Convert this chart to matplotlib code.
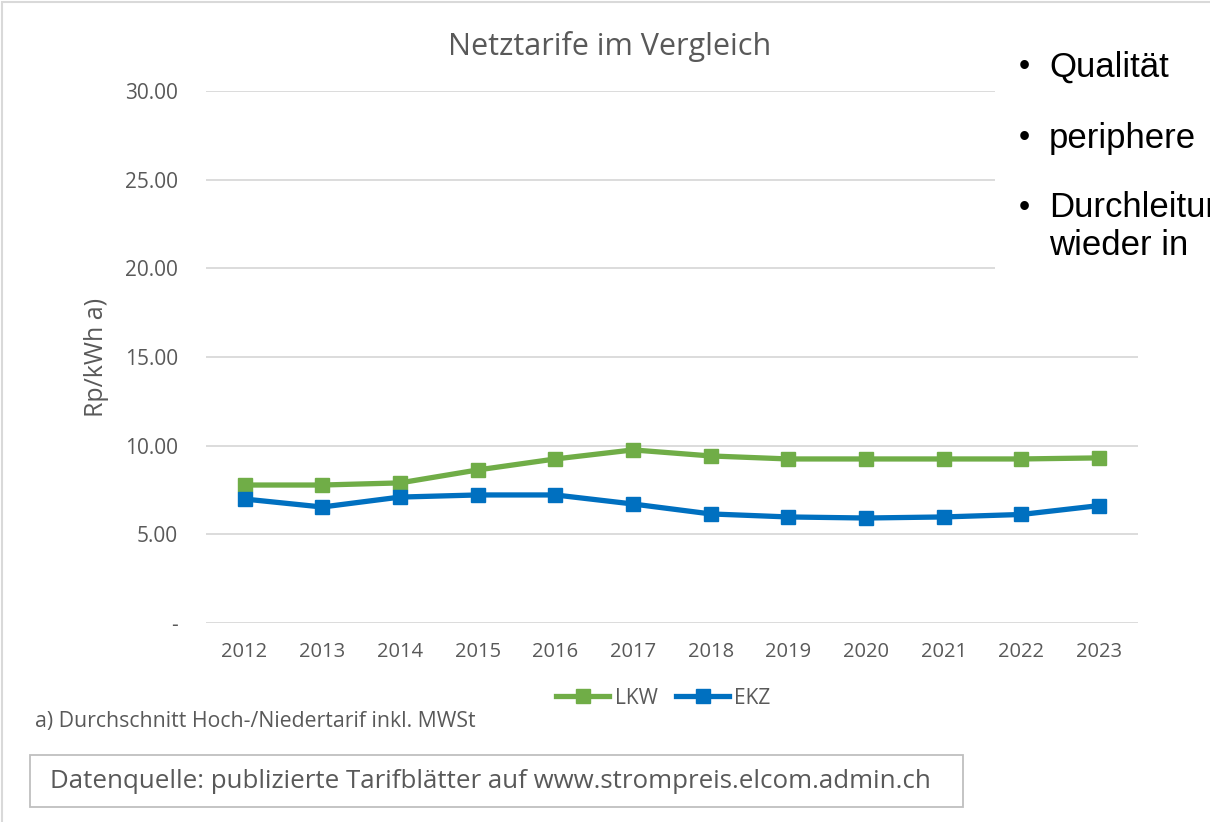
import matplotlib.pyplot as plt
from matplotlib.patches import Rectangle
from matplotlib.ticker import FuncFormatter

years = ["2012", "2013", "2014", "2015", "2016", "2017",
         "2018", "2019", "2020", "2021", "2022", "2023"]
lkw = [7.78, 7.78, 7.90, 8.63, 9.25, 9.76, 9.42, 9.25, 9.25, 9.25, 9.25, 9.31]
ekz = [6.99, 6.54, 7.10, 7.22, 7.22, 6.71, 6.15, 5.98, 5.92, 5.98, 6.12, 6.62]
y_ticks = [0, 5, 10, 15, 20, 25, 30]
bullets = ["Qualität", "periphere", "Durchleitung", "wieder in"]

grey = "#595959"
font = "Open Sans"

fig = plt.figure(figsize=(12.1, 8.22), dpi=100)
ax = fig.add_axes([0.170, 0.2421, 0.7705, 0.6472])

x = range(len(years))
ax.plot(x, lkw, color="#70AD47", lw=3.8, marker="s", ms=10, label="LKW")
ax.plot(x, ekz, color="#0070C0", lw=3.8, marker="s", ms=10, label="EKZ")

ax.set_xlim(-0.5, len(years) - 0.5)
ax.set_ylim(0, 30)
ax.set_xticks(list(x))
ax.set_xticklabels(years, fontsize=14.5, color=grey, family=font)
ax.set_yticks(y_ticks)
ax.yaxis.set_major_formatter(FuncFormatter(lambda v, p: "-" if v == 0 else f"{v:.2f}"))
for t in ax.get_yticklabels():
    t.set_fontsize(15)
    t.set_color(grey)
    t.set_family(font)
ax.tick_params(length=0, pad=20)
ax.tick_params(axis="x", pad=14)
ax.grid(axis="y", color="#D9D9D9", lw=1.3)
ax.set_axisbelow(True)
for s in ax.spines.values():
    s.set_visible(False)

ax.set_ylabel("Rp/kWh a)", fontsize=18, color=grey, family=font)
ax.yaxis.set_label_coords(-0.104, 0.5)
fig.text(610 / 1210, 1 - 47 / 822, "Netztarife im Vergleich", fontsize=22,
         color=grey, family=font, ha="center", va="center")

leg = ax.legend(loc="center", bbox_to_anchor=(0.491, -0.141), ncol=2, frameon=False,
                prop={"family": font, "size": 15}, handlelength=2.55,
                columnspacing=0.9, handletextpad=0.25)
for t in leg.get_texts():
    t.set_color(grey)

fig.text(0.029, 0.1217, "a) Durchschnitt Hoch-/Niedertarif inkl. MWSt",
         fontsize=15.3, color=grey, family=font, va="center")

# chart frame
fig.patches.append(Rectangle((0.002, -0.01), 1.2, 1.0075, transform=fig.transFigure,
                             fill=False, ec="#D9D9D9", lw=1.5))
# source box
fig.patches.append(Rectangle((0.025, 0.018), 0.771, 0.064, transform=fig.transFigure,
                             fill=False, ec="#BFBFBF", lw=1.3))
fig.text(0.041, 0.049, "Datenquelle: publizierte Tarifblätter auf www.strompreis.elcom.admin.ch",
         fontsize=18.6, color=grey, family=font, va="center")

# slide text box over the chart
fig.patches.append(Rectangle((0.822, 0.64), 0.2, 0.32, transform=fig.transFigure,
                             fc="white", ec="none", zorder=5))
ys = [0.918, 0.832, 0.747, 0.701]
for i, (b, yy) in enumerate(zip(bullets, ys)):
    if i < 3:
        fig.text(0.842, yy, "•", fontsize=23, family="Liberation Sans", va="center",
                 zorder=6)
    fig.text(0.867, yy, b, fontsize=25, family="Liberation Sans", va="center", zorder=6)

fig.savefig("out.png", dpi=100)
